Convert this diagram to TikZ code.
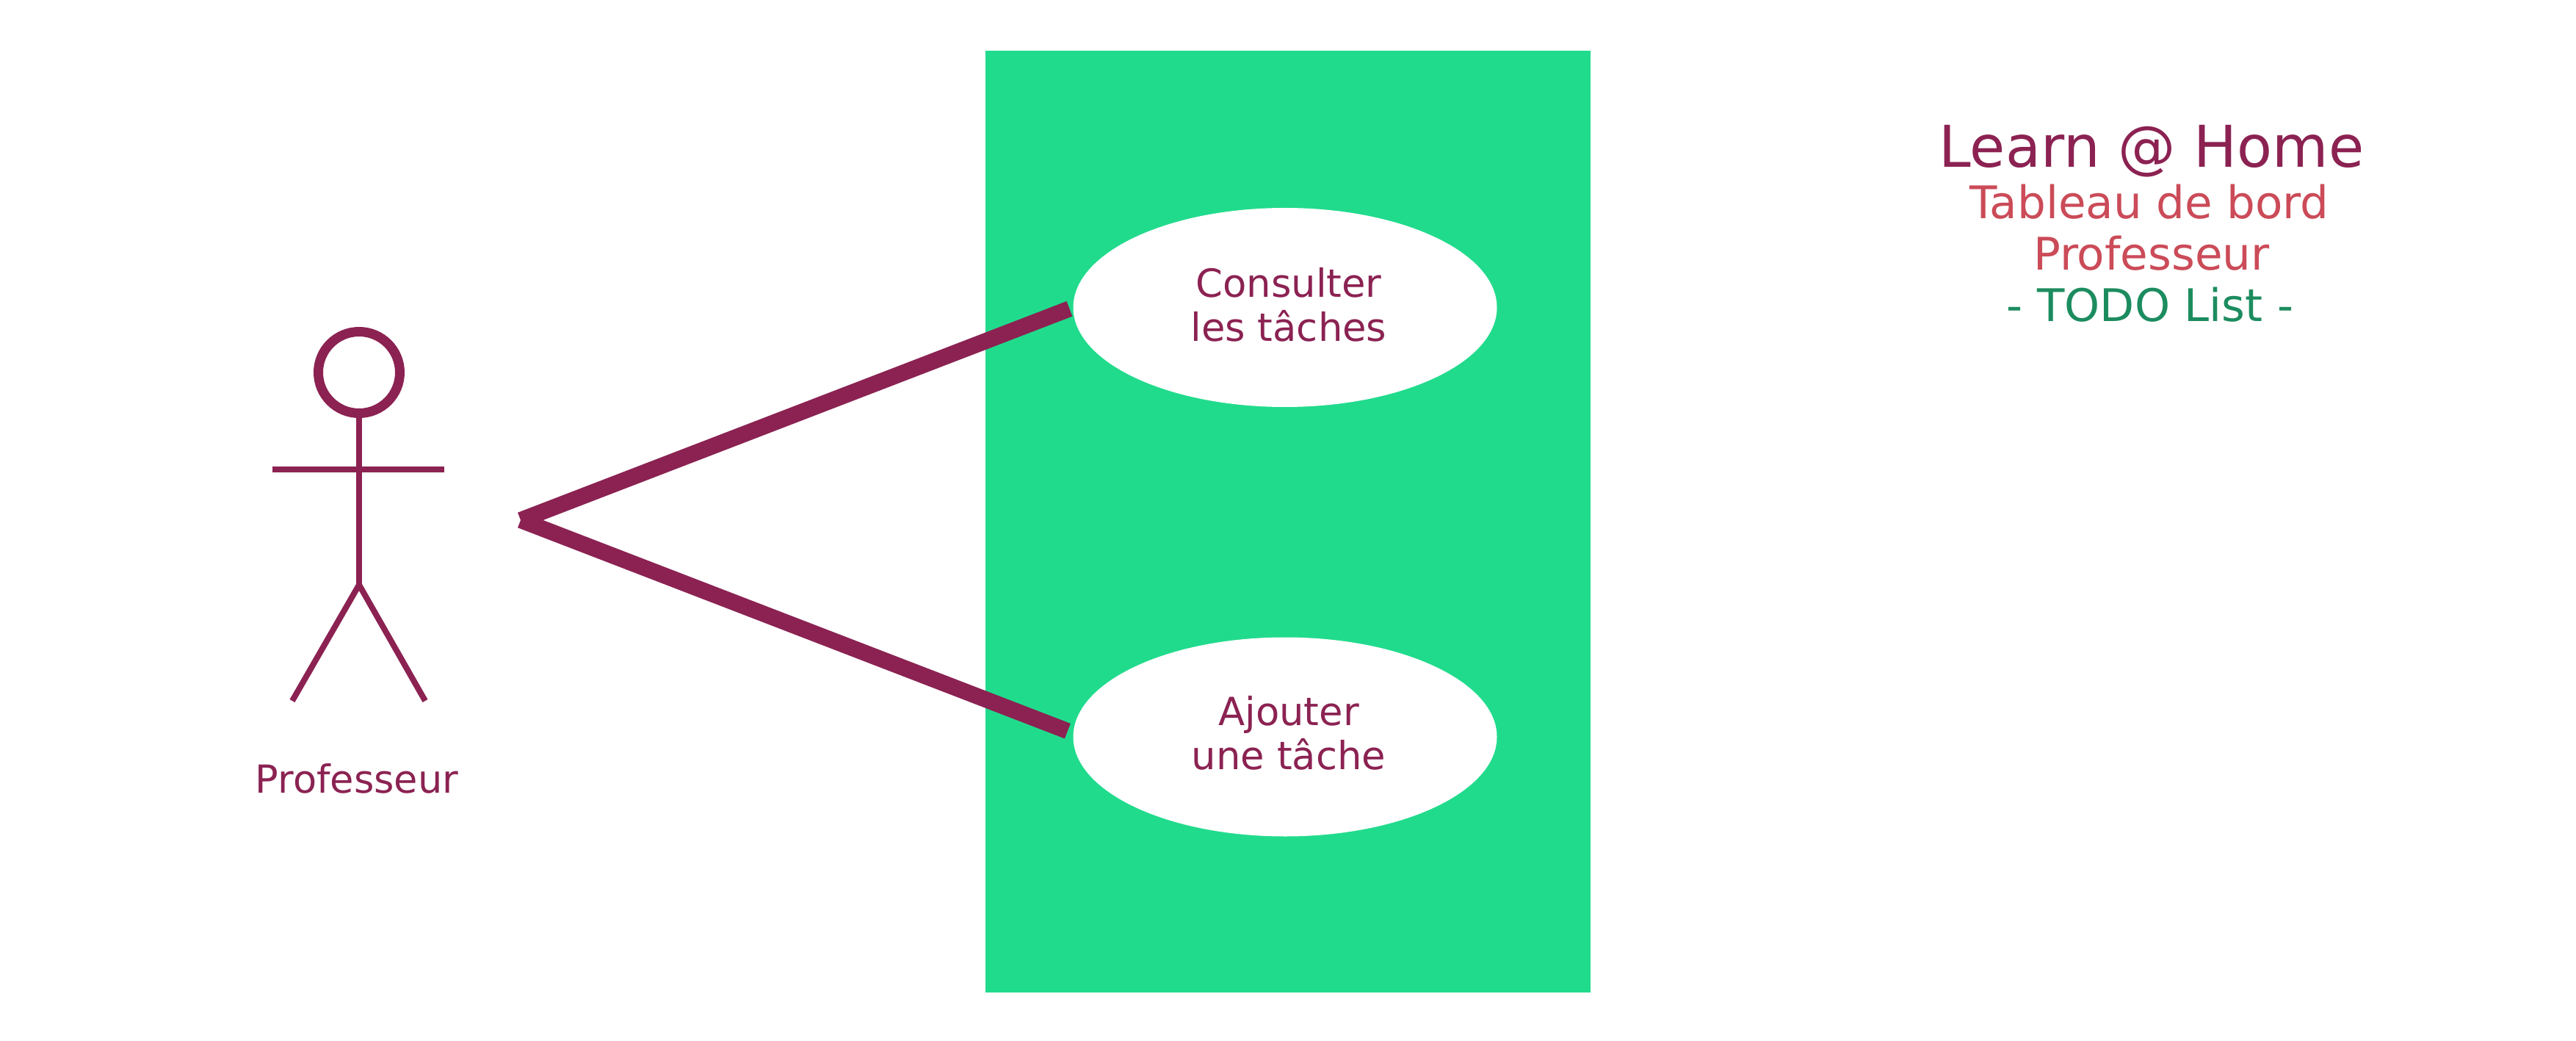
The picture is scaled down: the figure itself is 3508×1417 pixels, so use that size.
\documentclass[tikz,border=0pt]{standalone}
\usepackage{fontspec}
\setmainfont{DejaVu Sans}
\usetikzlibrary{shapes.geometric}
\definecolor{plum}{RGB}{139,34,82}
\definecolor{rosetxt}{RGB}{203,75,88}
\definecolor{greentxt}{RGB}{28,140,95}
\definecolor{boardgreen}{RGB}{33,219,140}
\tikzset{
  px/.style={x=0.5pt,y=-0.5pt},
  board/.style={fill=boardgreen,draw=none,minimum width=824*0.5pt,minimum height=1282*0.5pt,inner sep=0pt},
  usecase/.style={ellipse,fill=white,draw=none,minimum width=577*0.5pt,minimum height=271*0.5pt,inner sep=0pt},
  casetext/.style={text=plum,inner sep=0pt,anchor=base,font=\fontsize{26.4}{30}\selectfont},
  assoc/.style={draw=plum,line width=11pt,line cap=butt},
  limb/.style={draw=plum,line width=4pt,line cap=butt},
  headring/.style={circle,draw=plum,fill=white,line width=6.5pt,minimum size=111*0.5pt,inner sep=0pt},
  actorname/.style={text=plum,inner sep=0pt,anchor=base,font=\fontsize{26.3}{30}\selectfont},
  titlea/.style={text=plum,inner sep=0pt,anchor=base,font=\fontsize{39.2}{46}\selectfont},
  titleb/.style={text=rosetxt,inner sep=0pt,anchor=base,font=\fontsize{30.6}{35}\selectfont},
  titlec/.style={text=greentxt,inner sep=0pt,anchor=base,font=\fontsize{30.6}{35}\selectfont},
}
\begin{document}
\begin{tikzpicture}[px]
\useasboundingbox (0,0) rectangle (3508,1417);
\fill[white] (0,0) rectangle (3508,1417);
\node[board] (sys) at (1754,710) {};
\node[usecase] (u1) at (1750,418.5) {};
\node[usecase] (u2) at (1750,1003) {};
\node[casetext] (t1a) at (1755,405) {Consulter};
\node[casetext] (t1b) at (1755,465) {les tâches};
\node[casetext] (t2a) at (1755,987) {Ajouter};
\node[casetext] (t2b) at (1755,1047) {une tâche};
% actor
\node[headring] (head) at (489,507) {};
\coordinate (arml) at (371,639);
\coordinate (armr) at (605,639);
\coordinate (hip) at (489,796);
\coordinate (legl) at (398,954);
\coordinate (legr) at (579,954);
\coordinate (apex) at (709,708);
\draw[limb] (head.south) -- (hip);
\draw[limb] (arml) -- (armr);
\draw[limb] (legl) -- (hip) -- (legr);
\node[actorname] (actor) at (486,1079) {Professeur};
% connectors
\draw[assoc,shorten >=2.5pt] (apex) -- (u1.west);
\draw[assoc,shorten >=4pt] (apex) -- (u2.179);
% title
\node[titlea] (ta) at (2930,228) {Learn @ Home};
\node[titleb] (tb) at (2927,298) {Tableau de bord};
\node[titleb] (tc) at (2930,368) {Professeur};
\node[titlec] (td) at (2928,438) {- TODO List -};
\end{tikzpicture}
\end{document}
